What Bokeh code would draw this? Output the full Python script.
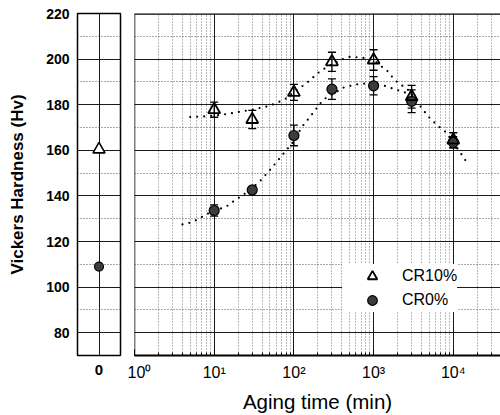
from bokeh.plotting import figure
from bokeh.models import (SingleIntervalTicker, FixedTicker, LogTicker, Whisker,
                          ColumnDataSource, Legend, Span, TeeHead)
from bokeh.layouts import row
from bokeh.embed import file_html
from bokeh.resources import INLINE

FONT = "Liberation Sans"

# ---- data ----
ctrl_time = [0]
ctrl_cr10 = [160.4]
ctrl_cr0 = [109.0]

times = [10, 30, 100, 300, 1000, 3000, 10000]
cr10 = [177.8, 173.5, 185.4, 198.8, 199.6, 183.5, 164.5]
cr10_err = [3.3, 4.0, 3.5, 4.2, 4.5, 5.0, 3.2]
cr0 = [133.6, 142.6, 166.5, 186.8, 188.3, 181.5, 163.5]
cr0_err = [2.5, 1.5, 4.5, 4.5, 4.0, 5.0, 2.5]

fit10_x = [5, 7, 10, 15, 20, 30, 50, 78, 100, 144, 210, 300, 480, 710, 1000, 1520, 1830, 2700, 4800, 6150, 7800, 10000, 13200, 15000]
fit10_y = [174.6, 174.8, 175.2, 176.0, 176.8, 177.8, 179.5, 182.5, 185.5, 189.4, 194.5, 197.8, 201.0, 200.7, 199.5, 194.5, 190.9, 186.5, 175.0, 171.3, 168.4, 163.5, 157.3, 154.3]

fit0_x = [4, 5, 6.3, 7.5, 10, 14, 17, 25, 37, 52, 73, 100, 124, 167, 233, 430, 710, 1370, 2240, 3000]
fit0_y = [127.5, 128.3, 129.7, 131.5, 133.5, 135.2, 137.3, 141.3, 146.2, 152.0, 158.3, 164.0, 169.9, 175.6, 182.2, 187.7, 189.4, 188.3, 185.8, 184.5]

y_ticks_interval = 20
x_labels = {1: "10⁰", 10: "10¹", 100: "10²", 1000: "10³", 10000: "10⁴"}

GRID = "#1a1a1a"
MINOR = "#555555"
H = 415

# ---- left panel (0 min) ----
p1 = figure(width=127, height=H, x_range=(-1, 1), y_range=(70, 220),
            output_backend="svg", toolbar_location=None,
            min_border_left=77, min_border_right=7, min_border_top=13, min_border_bottom=57)
p1.outline_line_color = "black"
p1.outline_line_width = 1.5
p1.background_fill_color = "white"

yt1 = SingleIntervalTicker(interval=y_ticks_interval, num_minor_ticks=2)
p1.yaxis.ticker = yt1
p1.yaxis.major_label_text_font = FONT
p1.yaxis.major_label_text_font_style = "bold"
p1.yaxis.major_label_text_font_size = "14px"
p1.yaxis.major_label_text_color = "black"
p1.yaxis.major_tick_in = 0
p1.yaxis.major_tick_out = 0
p1.yaxis.minor_tick_in = 0
p1.yaxis.minor_tick_out = 0
p1.yaxis.axis_line_color = None
p1.yaxis.major_label_standoff = 8
p1.yaxis.axis_label = "Vickers Hardness (Hv)"
p1.yaxis.axis_label_text_font = FONT
p1.yaxis.axis_label_text_font_style = "bold"
p1.yaxis.axis_label_text_font_size = "17px"
p1.yaxis.axis_label_text_color = "black"
p1.yaxis.axis_label_standoff = 16

p1.xaxis.ticker = FixedTicker(ticks=ctrl_time)
p1.xaxis.major_label_overrides = {0: "0"}
p1.xaxis.major_label_text_font = FONT
p1.xaxis.major_label_text_font_style = "bold"
p1.xaxis.major_label_text_font_size = "15px"
p1.xaxis.major_label_text_color = "black"
p1.xaxis.major_tick_in = 0
p1.xaxis.major_tick_out = 0
p1.xaxis.minor_tick_in = 0
p1.xaxis.minor_tick_out = 0
p1.xaxis.axis_line_color = None
p1.xaxis.major_label_standoff = 9

p1.ygrid.grid_line_color = GRID
p1.ygrid.grid_line_width = 1
p1.ygrid.minor_grid_line_color = MINOR
p1.ygrid.minor_grid_line_dash = "1 2"
p1.xgrid.grid_line_color = GRID

p1.scatter(ctrl_time, ctrl_cr10, marker="triangle", size=12, fill_color="white",
           line_color="black", line_width=1.6)
p1.scatter(ctrl_time, ctrl_cr0, marker="circle", size=9, fill_color="#3c3c3c",
           line_color="black", line_width=1.2)

# ---- right panel (log time) ----
p2 = figure(width=373, height=H, x_axis_type="log", x_range=(1, 39100), y_range=(70, 220),
            output_backend="svg", toolbar_location=None,
            min_border_left=7, min_border_right=0, min_border_top=13, min_border_bottom=57)
p2.outline_line_color = None
p2.background_fill_color = "white"

yt2 = SingleIntervalTicker(interval=y_ticks_interval, num_minor_ticks=2)
p2.yaxis.ticker = yt2
p2.yaxis.visible = False
p2.ygrid.ticker = yt2

p2.xaxis.ticker = LogTicker(num_minor_ticks=10)
p2.xaxis.major_label_overrides = x_labels
p2.xaxis.major_label_text_font = FONT
p2.xaxis.major_label_text_font_size = "16px"
p2.xaxis.major_label_text_color = "black"
p2.xaxis.major_label_standoff = 8
p2.xaxis.major_tick_in = 6
p2.xaxis.major_tick_out = 0
p2.xaxis.minor_tick_in = 3
p2.xaxis.minor_tick_out = 0
p2.xaxis.axis_line_width = 2
p2.xaxis.axis_line_color = "black"
p2.xaxis.axis_label = "Aging time (min)"
p2.xaxis.axis_label_text_font = FONT
p2.xaxis.axis_label_text_font_style = "normal"
p2.xaxis.axis_label_text_font_size = "20.5px"
p2.xaxis.axis_label_text_color = "black"
p2.xaxis.axis_label_standoff = 6

p2.ygrid.grid_line_color = GRID
p2.ygrid.minor_grid_line_color = MINOR
p2.ygrid.minor_grid_line_dash = "1 2"
p2.xgrid.grid_line_color = GRID
p2.xgrid.minor_grid_line_color = "#777777"
p2.xgrid.minor_grid_line_dash = "1 2"

# frame borders: top (thick) and left
p2.add_layout(Span(location=220, dimension="width", line_color="black", line_width=2.5))
p2.add_layout(Span(location=1, dimension="height", line_color="black", line_width=1.5))

p2.line(fit10_x, fit10_y, line_color="black", line_width=2.2, line_dash="0 7", line_cap="round")
p2.line(fit0_x, fit0_y, line_color="black", line_width=2.2, line_dash="0 7", line_cap="round")

src10 = ColumnDataSource(dict(t=times, y=cr10,
                              up=[v + e for v, e in zip(cr10, cr10_err)],
                              lo=[v - e for v, e in zip(cr10, cr10_err)]))
src0 = ColumnDataSource(dict(t=times, y=cr0,
                             up=[v + e for v, e in zip(cr0, cr0_err)],
                             lo=[v - e for v, e in zip(cr0, cr0_err)]))
for s in (src0, src10):
    p2.add_layout(Whisker(source=s, base="t", upper="up", lower="lo",
                          line_color="black", line_width=1.3,
                          upper_head=TeeHead(size=8, line_color="black", line_width=1.3),
                          lower_head=TeeHead(size=8, line_color="black", line_width=1.3)))

r0 = p2.scatter("t", "y", source=src0, marker="circle", size=10, fill_color="#3c3c3c",
                line_color="black", line_width=1.2)
r10 = p2.scatter("t", "y", source=src10, marker="triangle", size=12, fill_color="white",
                 fill_alpha=0.0, line_color="black", line_width=1.8)

legend = Legend(items=[("CR10%", [r10]), ("CR0%", [r0])], location=(208, 43),
                glyph_width=60, glyph_height=24, spacing=0, padding=6, margin=0,
                label_standoff=0, border_line_color=None,
                background_fill_color="white", background_fill_alpha=1.0,
                label_text_font=FONT, label_text_font_size="16px", label_text_color="black")
p2.add_layout(legend)

layout = row(p1, p2)
open("out.html", "w").write(file_html(layout, INLINE))
